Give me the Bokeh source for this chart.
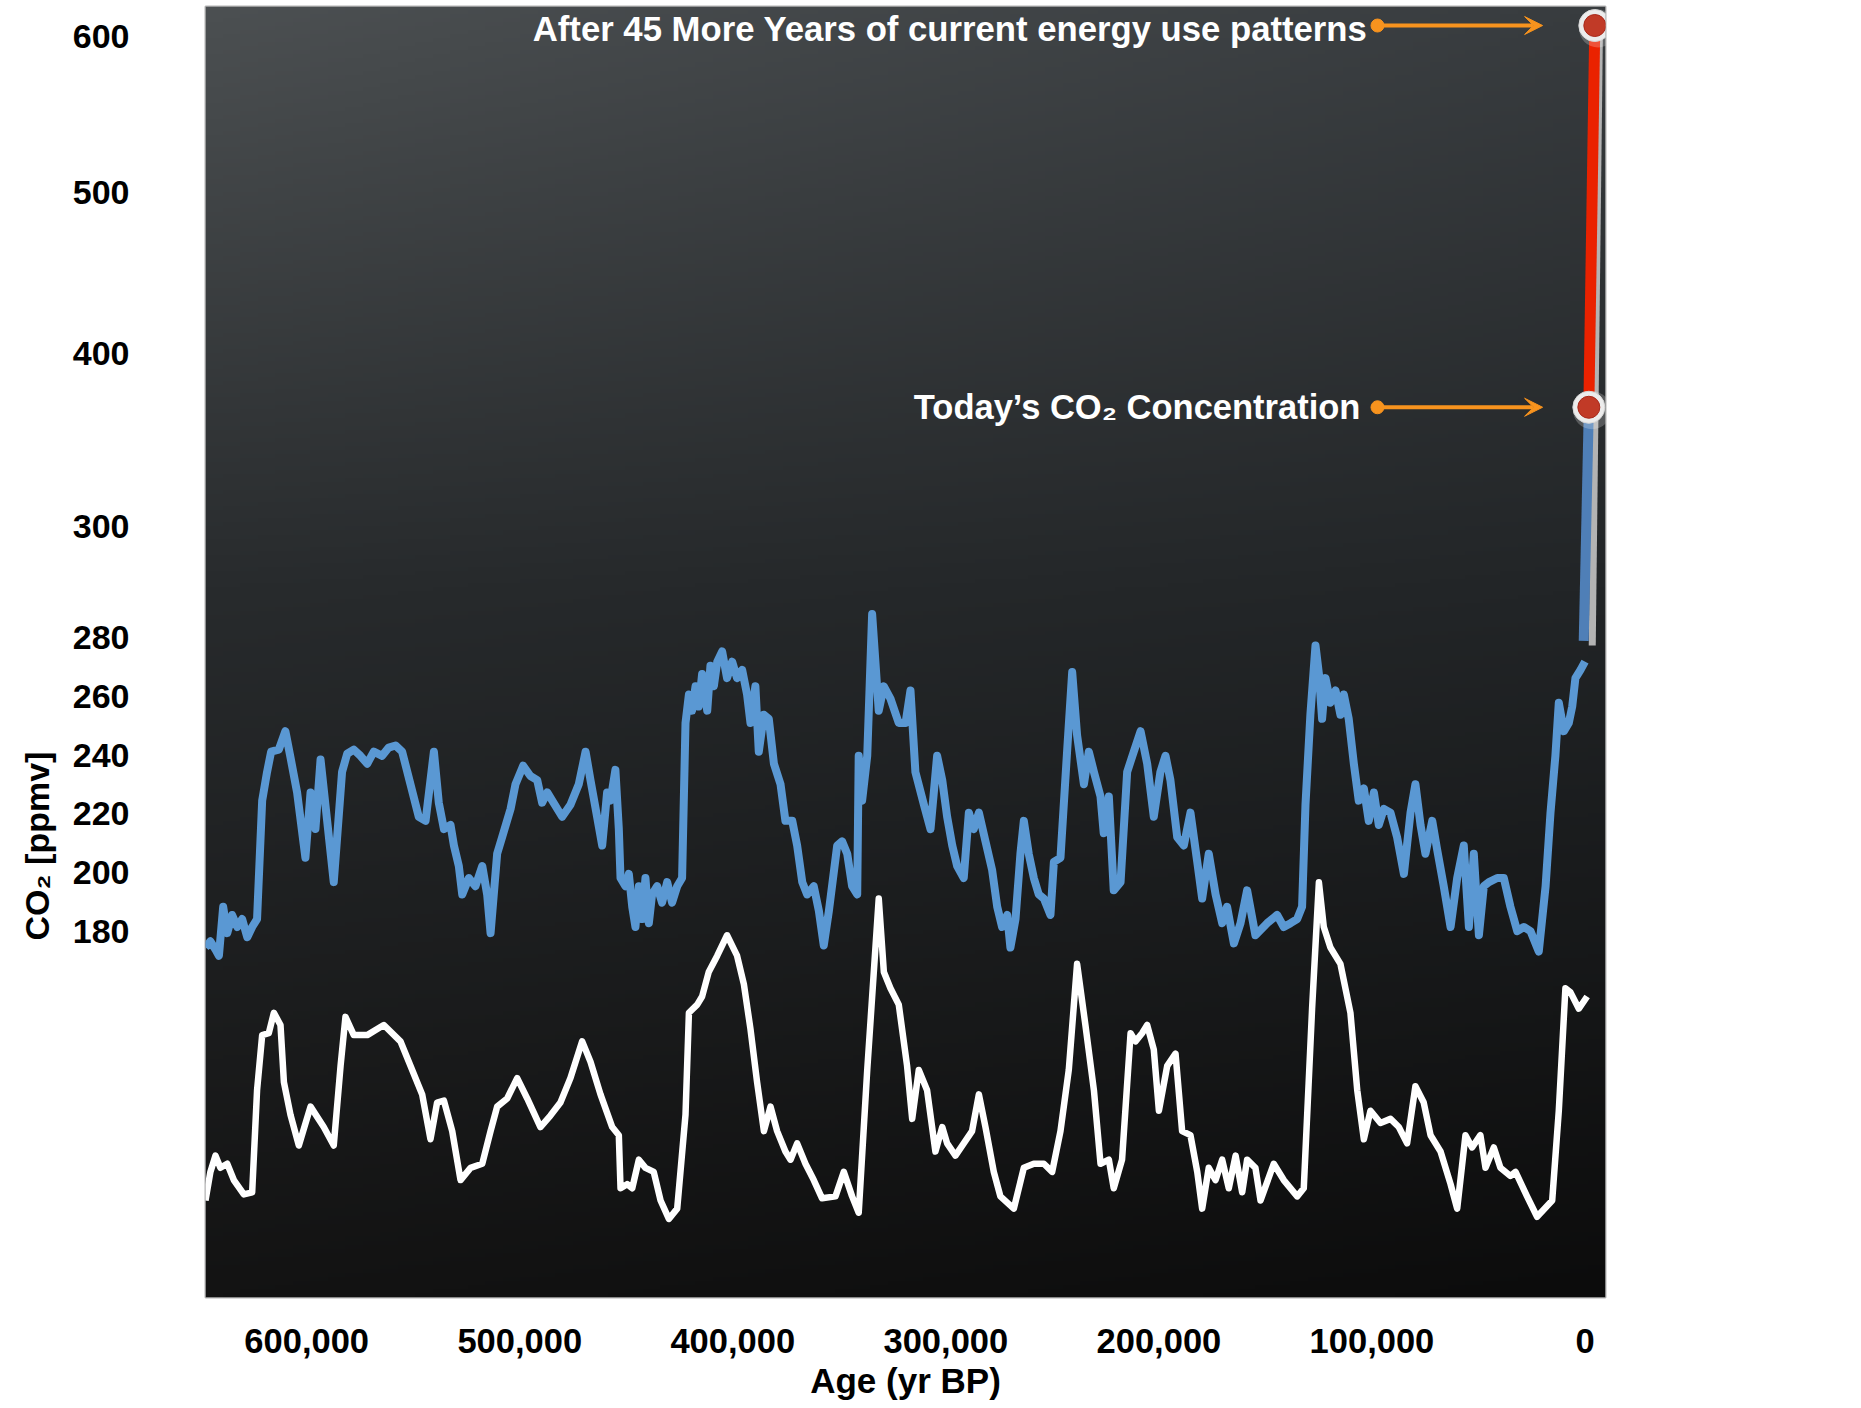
import numpy as np
from bokeh.plotting import figure
from bokeh.models import (Range1d, FixedTicker, NumeralTickFormatter, Label, Arrow, VeeHead, Title)
from bokeh.embed import file_html
from bokeh.resources import INLINE

# ---------------- data ----------------
# CO2 record (age in thousand years BP, CO2 in ppmv)
CO2_AGE_KYR = [
    647.5, 645.2, 642.8, 641.2, 639.2, 637.3, 635.0, 632.6, 630.3, 627.9,
    625.6, 623.3, 620.9, 618.6, 616.7, 613.1, 610.0, 607.6, 604.5, 600.6,
    598.2, 595.9, 593.5, 590.4, 587.3, 583.4, 581.0, 577.9, 574.8, 571.6,
    568.5, 564.6, 561.5, 558.3, 555.2, 551.3, 547.4, 544.2, 540.3, 538.0,
    535.6, 532.5, 530.9, 528.6, 527.0, 523.9, 520.8, 517.6, 515.3, 513.7,
    510.6, 508.3, 504.3, 502.0, 498.4, 495.0, 491.8, 489.5, 487.1,
    480.1, 476.2, 472.3, 469.1, 466.8, 463.7, 461.3, 459.0, 457.4, 455.1,
    453.5, 452.7, 450.4, 448.8, 447.2, 445.7, 444.1, 442.5, 441.0, 439.4,
    437.9, 435.5, 433.2, 430.8, 428.5, 426.1, 423.8, 422.2, 420.6, 419.1,
    417.5, 416.0, 414.4, 412.0, 410.5, 408.9, 407.3, 405.0, 402.7, 400.3,
    398.0, 395.6, 393.3, 391.7, 389.4, 387.8, 385.4, 383.1, 380.7, 377.6,
    375.3, 372.1, 369.8, 367.4, 365.1, 362.0, 359.6, 357.3, 354.9, 351.0,
    348.7, 346.3, 344.0, 341.6, 340.9, 339.3, 336.9, 334.6, 331.5, 329.1,
    326.0, 322.1,
    318.9, 316.6, 314.3, 310.3, 307.2, 304.1, 301.7, 299.4, 297.0, 294.7,
    291.6, 289.2, 286.9, 284.5, 281.4, 278.3, 275.9, 273.6, 271.2, 269.7,
    267.3, 265.0, 263.4, 261.1, 258.7, 256.4, 254.0, 250.9, 249.3, 246.2,
    243.1, 240.7, 238.4, 235.2, 232.9, 230.5, 227.4, 225.9, 223.5, 221.2,
    218.0, 214.9, 211.8, 208.6, 205.5, 202.4, 199.3, 196.9, 194.6, 191.4,
    188.3, 185.2, 182.0, 179.7, 176.6, 173.4, 170.3, 168.0, 164.8, 161.7,
    158.6, 154.7,
    149.2, 144.5, 141.4, 138.2, 135.1, 132.8, 131.2, 128.9, 126.5, 124.9,
    123.4, 121.8, 119.5, 117.1, 114.8, 113.2, 110.9, 108.5, 106.2, 103.8,
    101.5, 99.1, 96.8, 94.4, 91.3, 88.2, 85.0, 81.9, 79.6, 77.2,
    74.9, 71.7, 69.4, 66.3, 63.1, 60.0, 56.9, 54.5, 52.2, 49.8,
    47.5, 45.1, 41.2, 38.1, 35.0, 31.8, 28.7, 25.6, 21.7, 18.5,
    16.2, 13.9, 12.3, 9.9, 7.6, 6.0, 4.5, 2.1, 0.0,
]
CO2_PPMV = [
    174.4, 176.5, 173.7, 171.6, 188.3, 179.3, 185.5, 181.4, 184.1, 177.9,
    181.4, 184.1, 224.5, 234.3, 241.2, 241.9, 248.2, 239.2, 227.3, 205.0,
    227.3, 214.8, 238.5, 217.6, 196.7, 234.3, 240.5, 241.9, 239.8, 237.1,
    241.2, 239.8, 242.6, 243.3, 241.2, 230.1, 219.0, 217.6, 241.2, 223.8,
    214.8, 216.2, 209.2, 202.2, 192.5, 198.1, 195.3, 202.2, 192.5, 179.3,
    206.4, 212.0, 221.7, 230.1, 236.4, 232.9, 231.5, 223.8, 227.3,
    219.0, 223.1, 230.1, 241.2, 231.5, 219.0, 209.2, 227.3, 224.5, 235.0,
    214.8, 198.1, 195.3, 199.5, 188.3, 181.4, 195.3, 184.1, 198.1, 182.7,
    192.5, 195.3, 189.7, 196.7, 189.7, 195.3, 198.1, 251.0, 260.7, 255.2,
    263.5, 256.6, 267.7, 255.2, 270.5, 263.5, 271.9, 275.4, 266.3, 271.9,
    266.3, 269.1, 260.7, 251.0, 263.5, 241.2, 253.8, 252.4, 237.1, 230.1,
    217.6, 217.6, 209.2, 196.7, 192.5, 195.3, 186.9, 175.1, 186.9, 209.2,
    210.6, 206.4, 195.3, 192.5, 239.8, 224.5, 239.8, 284.3, 255.2, 263.5,
    259.3, 251.0,
    251.0, 262.1, 234.3, 223.1, 214.8, 239.8, 231.5, 219.0, 209.2, 202.2,
    198.1, 220.4, 214.8, 220.4, 210.6, 200.9, 188.3, 181.4, 185.5, 174.4,
    184.1, 206.4, 217.6, 206.4, 198.1, 192.5, 191.1, 185.5, 203.6, 205.0,
    241.2, 268.4, 246.8, 230.1, 241.2, 234.3, 225.9, 213.4, 225.9, 193.9,
    196.7, 234.3, 241.2, 248.2, 237.1, 219.0, 234.3, 239.8, 231.5, 212.0,
    209.2, 220.4, 203.6, 191.1, 206.4, 192.5, 182.7, 188.3, 175.8, 182.7,
    193.9, 178.6,
    182.7, 185.5, 181.4, 182.7, 184.1, 188.3, 223.1, 253.8, 277.4, 267.7,
    252.4, 266.3, 257.9, 262.1, 253.8, 260.7, 252.4, 237.1, 224.5, 228.7,
    217.6, 227.3, 216.2, 221.7, 220.4, 212.0, 199.5, 220.4, 230.1, 216.2,
    206.4, 217.6, 207.8, 195.3, 181.4, 198.1, 209.2, 181.4, 206.4, 178.6,
    195.3, 196.7, 198.1, 198.1, 188.3, 180.0, 181.4, 180.0, 173.0, 195.3,
    220.4, 239.8, 257.9, 248.2, 251.0, 256.6, 266.3, 269.1, 271.9,
]

# Temperature proxy (white curve, anomaly in deg C, no axis shown)
TEMP_AGE_KYR = [
    647.5, 645.2, 642.8, 640.5, 637.3, 634.2, 629.5, 625.6, 623.3, 620.9,
    617.8, 615.4, 612.3, 610.7, 607.6, 603.7, 598.2, 592.0, 587.3, 584.1,
    581.8, 577.9, 571.6, 563.8, 556.0, 551.3, 545.8, 541.9, 538.8, 535.6,
    531.7, 527.8, 523.1, 517.6, 513.7, 510.6, 505.9, 501.2, 496.5, 490.3,
    485.6, 480.9, 476.2, 470.7, 466.8, 462.1, 456.6, 453.5, 452.7, 449.6,
    447.2, 444.1, 441.0, 437.1, 433.9, 430.0, 426.1, 422.2, 420.6, 416.7,
    414.4, 411.3, 407.3, 402.7, 398.0, 394.8, 391.7, 388.6, 385.4, 382.3,
    379.2, 375.3, 372.9, 369.8, 365.9, 362.0, 358.1, 351.8, 347.9, 344.0,
    340.9, 336.9, 331.5, 329.1, 326.0, 322.1,
    318.2, 315.8, 312.7, 308.8, 304.9, 301.7, 299.4, 295.5, 291.6, 287.7,
    284.5, 281.4, 277.5, 274.4, 268.1, 263.4, 258.7, 254.0, 250.1, 246.2,
    242.3, 238.4, 234.5, 230.5, 227.4, 223.5, 221.2, 217.3, 213.3, 211.0,
    207.9, 205.5, 202.4, 200.0, 196.1, 192.2, 189.1, 185.2, 182.0, 179.7,
    176.6, 173.4, 170.3, 167.2, 164.0, 160.9, 158.6, 154.7,
    152.3, 146.1, 141.4, 135.1, 132.0, 128.1, 124.9, 122.6, 119.5, 114.8,
    110.1, 106.9, 103.8, 100.7, 96.0, 91.3, 87.4, 83.5, 79.6, 75.7,
    72.5, 67.8, 63.1, 60.0, 56.1, 53.0, 49.1, 46.7, 42.8, 39.7,
    35.0, 32.6, 27.2, 22.5, 15.4, 12.3, 9.2, 6.8, 2.9, -1.0,
]
TEMP_ANOM_C = [
    -8.54, -7.35, -6.67, -7.18, -7.01, -7.69, -8.29, -8.20, -3.95, -1.65,
    -1.57, -0.72, -1.23, -3.61, -4.97, -6.25, -4.63, -5.48, -6.25, -2.93,
    -0.89, -1.65, -1.65, -1.23, -1.91, -2.93, -4.12, -5.99, -4.46, -4.38,
    -5.65, -7.69, -7.18, -7.01, -5.65, -4.63, -4.29, -3.44, -4.29, -5.48,
    -5.00, -4.46, -3.44, -1.91, -2.76, -4.12, -5.48, -5.82, -8.03, -7.86,
    -8.03, -6.84, -7.18, -7.35, -8.54, -9.31, -8.88, -4.97, -0.72, -0.38,
    -0.04, 0.98, 1.66, 2.51, 1.66, 0.47, -1.40, -3.61, -5.65, -4.63,
    -5.65, -6.50, -6.84, -6.16, -7.01, -7.69, -8.45, -8.37, -7.35, -8.37,
    -9.05, -3.10, 4.04, 0.98, 0.30, -0.38,
    -2.93, -5.14, -3.10, -3.95, -6.50, -5.48, -6.16, -6.67, -6.16, -5.65,
    -4.12, -5.48, -7.35, -8.37, -8.88, -7.18, -7.01, -7.01, -7.35, -5.65,
    -3.10, 1.32, -1.23, -3.95, -7.01, -6.84, -8.03, -6.84, -1.57, -1.91,
    -1.57, -1.23, -2.25, -4.80, -2.93, -2.42, -5.65, -5.82, -7.35, -8.88,
    -7.18, -7.69, -6.84, -8.03, -6.67, -8.20, -6.84, -7.18,
    -8.54, -7.01, -7.69, -8.37, -8.03, -0.55, 4.72, 2.85, 2.00, 1.32,
    -0.72, -3.95, -5.99, -4.80, -5.31, -5.14, -5.48, -6.16, -3.78, -4.46,
    -5.82, -6.50, -7.86, -8.88, -5.82, -6.33, -5.82, -7.18, -6.33, -7.18,
    -7.52, -7.35, -8.37, -9.22, -8.54, -4.80, 0.30, 0.13, -0.55, -0.04,
]

# Modern rise: future (after 45 more years), today, pre-industrial
RISE_AGE_KYR = [-4.6, -1.8, 0.6]
RISE_PPMV = [606.8, 368.7, 279.0]
SHADOW_AGE_KYR = [-6.8, -3.4]
SHADOW_PPMV = [606.8, 277.4]

Y_TICKS = [180, 200, 220, 240, 260, 280, 300, 400, 500, 600]
X_TICKS = [600000, 500000, 400000, 300000, 200000, 100000, 0]

# broken CO2 axis: linear up to 280 ppmv, compressed above
AXIS_PPMV = [0, 280, 300, 400, 500, 600, 700]
AXIS_SCALE = [0, 280, 318.1, 377.2, 431.9, 485.3, 538.7]


def ypos(v):
    return np.interp(np.asarray(v, dtype=float), AXIS_PPMV, AXIS_SCALE)


FONT = "Liberation Sans"
ORANGE = "#f7931e"
BLUE = "#5a98d3"

p = figure(frame_width=1400, frame_height=1291,
           x_range=Range1d(647500, -9620), y_range=Range1d(55.0, 495.42),
           output_backend="svg", toolbar_location=None,
           min_border_left=205, min_border_right=20, min_border_top=6, min_border_bottom=90,
           background_fill_color="#1c1c1c", border_fill_color="white",
           outline_line_color="#b4b4b4", outline_line_width=2)
p.extra_y_ranges = {"temp": Range1d(-12.583, 41.21), "bg": Range1d(0, 1)}
p.extra_x_ranges = {"bg": Range1d(0, 1)}
p.grid.visible = False

# background gradient
H, W = 320, 80
f = np.linspace(1.0, 0.0, H)[:, None]          # 0 = top, 1 = bottom (row 0 is bottom)
s = np.linspace(0.0, 1.0, W)[None, :]          # 0 = left, 1 = right
stops = [0.0, 0.45, 1.0]
left = np.array([[76, 80, 82], [40, 43, 45], [19, 19, 19]], dtype=float)
right = np.array([[56, 60, 63], [34, 37, 39], [12, 12, 12]], dtype=float)
img = np.empty((H, W), dtype=np.uint32)
view = img.view(dtype=np.uint8).reshape((H, W, 4))
for c in range(3):
    lc = np.interp(f[:, 0], stops, left[:, c])[:, None]
    rc = np.interp(f[:, 0], stops, right[:, c])[:, None]
    view[:, :, c] = np.clip(lc * (1 - s) + rc * s, 0, 255).astype(np.uint8)
view[:, :, 3] = 255
p.image_rgba(image=[img], x=0, y=0, dw=1, dh=1, x_range_name="bg", y_range_name="bg")

co2_x = np.array(CO2_AGE_KYR) * 1000
temp_x = np.array(TEMP_AGE_KYR) * 1000
p.line(co2_x, ypos(CO2_PPMV), line_color=BLUE, line_width=8, line_join="round")
p.line(temp_x, TEMP_ANOM_C, y_range_name="temp", line_color="white", line_width=6.5, line_join="round")

# modern rise
rx = np.array(RISE_AGE_KYR) * 1000
ry = ypos(RISE_PPMV)
p.line(np.array(SHADOW_AGE_KYR) * 1000, ypos(SHADOW_PPMV), line_color="#b3b3b3", line_width=7)
p.line(rx[:2], ry[:2], line_color="#ea2200", line_width=11)
p.line(rx[1:], ry[1:], line_color="#4f7fb7", line_width=10)
p.scatter(rx[:2] - 1500, ry[:2] - 1.0, size=38, fill_color="#ffffff", fill_alpha=0.22, line_color=None)
p.scatter(rx[:2], ry[:2], size=32, fill_color="#ececec", line_color="#d6d6d6")
p.scatter(rx[:2], ry[:2], size=22, fill_color="#c13a27", line_color="#a8281a")

# annotations
yf, yt = float(ry[0]), float(ry[1])
for yy in (yf, yt):
    p.add_layout(Arrow(end=VeeHead(size=18, fill_color=ORANGE, line_color=ORANGE, line_width=1),
                       x_start=97400, y_start=yy, x_end=19900, y_end=yy,
                       line_color=ORANGE, line_width=4))
p.scatter([97400, 97400], [yf, yt], size=13, fill_color=ORANGE, line_color=ORANGE)
p.add_layout(Label(x=102100, y=yf, text="After 45 More Years of current energy use patterns",
                   text_align="right", text_baseline="middle", text_color="white",
                   text_font=FONT, text_font_style="bold", text_font_size="34.7px", y_offset=-3))
p.add_layout(Label(x=105400, y=yt, text="Today\u2019s CO\u2082 Concentration",
                   text_align="right", text_baseline="middle", text_color="white",
                   text_font=FONT, text_font_style="bold", text_font_size="34.5px"))

# y label beside the lower (linear) part of the axis: a side title shifted up from the bottom
p.add_layout(Title(text="CO\u2082 [ppmv]", align="left", offset=357, standoff=27,
                   text_font=FONT, text_font_style="bold", text_font_size="34px",
                   text_color="black"), "left")

# axes
ytick_pos = [float(ypos(v)) for v in Y_TICKS]
p.yaxis.ticker = FixedTicker(ticks=ytick_pos)
p.yaxis.major_label_overrides = {t: str(v) for t, v in zip(ytick_pos, Y_TICKS)}
p.xaxis.ticker = FixedTicker(ticks=X_TICKS)
p.xaxis.formatter = NumeralTickFormatter(format="0,0")
for ax in (p.xaxis, p.yaxis):
    ax.axis_line_color = None
    ax.major_tick_line_color = None
    ax.minor_tick_line_color = None
    ax.major_tick_out = 0
    ax.major_label_text_font = FONT
    ax.major_label_text_font_style = "bold"
    ax.major_label_text_color = "black"
    ax.major_label_text_line_height = 1.0
p.yaxis.major_label_text_font_size = "34px"
p.xaxis.major_label_text_font_size = "34.5px"
p.yaxis.major_label_standoff = 76
p.xaxis.major_label_standoff = 31
p.xaxis.axis_label = "Age (yr BP)"
p.xaxis.axis_label_text_font = FONT
p.xaxis.axis_label_text_font_style = "bold"
p.xaxis.axis_label_text_font_size = "35px"
p.xaxis.axis_label_text_color = "black"
p.xaxis.axis_label_text_line_height = 1.0
p.xaxis.axis_label_standoff = 5

open("out.html", "w").write(file_html(p, INLINE))
